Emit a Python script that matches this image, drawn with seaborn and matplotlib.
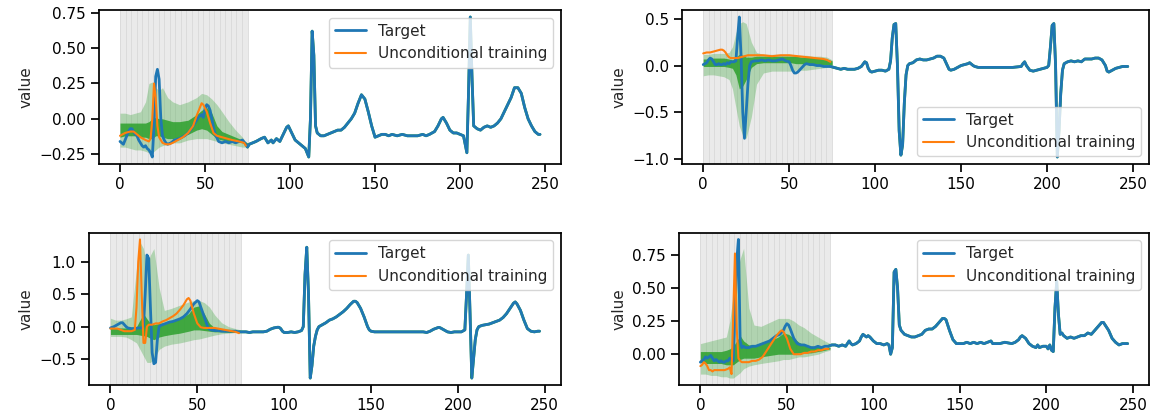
import numpy as np
import matplotlib
matplotlib.use("Agg")
import matplotlib.pyplot as plt
import seaborn as sns
from matplotlib.ticker import MultipleLocator

# ---------------- data ----------------
tl_target = [(0,-0.16),(1,-0.17),(2,-0.18),(3,-0.15),(4,-0.12),(5,-0.09),(6,-0.07),(7,-0.07),(8,-0.09),(9,-0.11),
             (10,-0.12),(11,-0.15),(12,-0.17),(13,-0.19),(14,-0.20),(15,-0.19),(16,-0.21),(17,-0.22),(18,-0.24),(19,-0.27),
             (20,-0.05),(21,0.30),(22,0.35),(23,0.28),(24,0.0),(25,-0.12),(26,-0.15),(27,-0.17),(28,-0.18),(30,-0.17),
             (32,-0.15),(35,-0.14),(38,-0.12),(40,-0.10),(42,-0.07),(44,-0.03),(46,0.01),(48,0.03),(49,0.01),(50,0.07),
             (51,0.10),(52,0.09),(53,0.06),(54,0.0),(55,-0.06),(56,-0.11),(58,-0.16),(60,-0.17),(62,-0.16),(64,-0.17),
             (66,-0.16),(68,-0.17),(70,-0.16),(72,-0.15),(74,-0.18),(75,-0.20),(76,-0.18),(78,-0.17),(80,-0.16),(83,-0.14),
             (85,-0.13),(87,-0.17),(89,-0.15),(90,-0.17),(92,-0.14),(94,-0.16),(96,-0.11),(98,-0.06),(99,-0.05),(101,-0.10),
             (103,-0.15),(105,-0.17),(107,-0.19),(109,-0.21),(111,-0.27),(112,0.0),(113,0.62),(114,0.45),(115,-0.05),(116,-0.10),
             (118,-0.12),(120,-0.12),(122,-0.11),(124,-0.10),(126,-0.09),(128,-0.08),(130,-0.08),(132,-0.06),(134,-0.03),(136,0.0),
             (138,0.04),(140,0.11),(142,0.17),(144,0.14),(146,0.05),(148,-0.05),(150,-0.13),(152,-0.12),(154,-0.11),(156,-0.11),
             (158,-0.12),(160,-0.11),(163,-0.12),(166,-0.11),(169,-0.12),(172,-0.12),(175,-0.12),(178,-0.11),(180,-0.12),(182,-0.11),
             (185,-0.09),(187,-0.05),(189,0.0),(190,0.01),(192,-0.03),(194,-0.08),(196,-0.10),(198,-0.10),(200,-0.11),(202,-0.12),
             (204,-0.24),(205,0.20),(206,0.72),(207,0.30),(208,-0.05),(210,-0.07),(212,-0.08),(214,-0.06),(216,-0.05),(218,-0.06),
             (220,-0.05),(222,-0.03),(224,0.0),(226,0.05),(228,0.10),(230,0.15),(232,0.22),(234,0.22),(236,0.18),(238,0.08),
             (240,0.0),(242,-0.05),(244,-0.09),(246,-0.11),(247,-0.11)]
tl_uncond = [(0,-0.12),(3,-0.10),(6,-0.09),(8,-0.09),(10,-0.11),(12,-0.13),(15,-0.15),(17,-0.16),(18,-0.14),(19,0.0),
             (20,0.25),(21,0.15),(22,-0.05),(23,-0.13),(25,-0.17),(27,-0.18),(29,-0.18),(31,-0.17),(34,-0.15),(37,-0.13),
             (40,-0.10),(43,-0.05),(45,0.02),(47,0.08),(48,0.11),(49,0.10),(51,0.05),(53,-0.03),(55,-0.10),(57,-0.12),
             (60,-0.13),(63,-0.14),(66,-0.15),(70,-0.16),(73,-0.17),(74,-0.19)]

tr_target = [(0,0.01),(1,0.02),(2,0.03),(3,0.06),(4,0.08),(5,0.07),(6,0.04),(7,0.01),(8,0.01),(9,0.02),
             (10,0.01),(11,0.01),(12,0.02),(13,0.01),(14,0.03),(15,0.02),(16,0.04),(17,0.04),(18,0.04),(19,0.05),
             (20,0.30),(21,0.52),(22,0.10),(23,-0.50),(24,-0.78),(25,-0.50),(26,-0.20),(27,0.0),(28,0.04),(30,0.05),
             (32,0.05),(34,0.06),(36,0.05),(38,0.06),(40,0.05),(42,0.05),(44,0.06),(46,0.07),(48,0.05),(50,0.04),
             (51,0.0),(52,-0.05),(53,-0.08),(54,-0.08),(55,-0.07),(56,-0.05),(57,-0.03),(58,-0.01),(59,0.01),(60,0.02),
             (62,0.01),(64,0.01),(66,0.0),(68,0.0),(70,-0.01),(72,-0.01),(74,-0.01),(76,-0.02),(78,-0.03),(80,-0.04),
             (82,-0.03),(84,-0.04),(86,-0.04),(88,-0.04),(90,-0.03),(92,-0.01),(94,0.04),(95,0.03),(96,-0.03),(97,-0.06),
             (98,-0.07),(100,-0.06),(102,-0.05),(104,-0.05),(106,-0.06),(108,-0.04),(109,0.05),(110,0.30),(111,0.44),(112,0.45),
             (113,0.0),(114,-0.70),(115,-0.96),(116,-0.85),(117,-0.40),(118,-0.10),(119,0.0),(120,0.02),(122,0.03),(124,0.06),
             (126,0.07),(128,0.06),(130,0.06),(132,0.07),(134,0.08),(136,0.10),(138,0.10),(140,0.08),(142,0.0),(143,-0.04),
             (144,-0.05),(146,-0.04),(148,-0.02),(150,0.0),(152,0.01),(154,0.02),(155,0.03),(157,0.0),(158,-0.01),(160,-0.02),
             (165,-0.02),(170,-0.02),(175,-0.02),(180,-0.02),(185,-0.01),(186,0.02),(187,0.04),(188,0.0),(190,-0.05),(192,-0.06),
             (194,-0.05),(196,-0.04),(198,-0.03),(200,-0.02),(201,0.0),(202,0.20),(203,0.43),(204,0.45),(205,0.0),(206,-0.98),
             (207,-0.70),(208,-0.30),(209,-0.05),(210,0.02),(212,0.04),(214,0.05),(216,0.04),(218,0.05),(220,0.04),(222,0.07),
             (224,0.07),(226,0.07),(228,0.08),(230,0.08),(232,0.06),(234,0.0),(235,-0.06),(236,-0.07),(238,-0.05),(240,-0.03),
             (242,-0.02),(244,-0.01),(246,-0.01),(247,-0.01)]
tr_uncond = [(0,0.13),(2,0.14),(4,0.14),(6,0.15),(8,0.16),(10,0.17),(11,0.17),(12,0.16),(13,0.14),(14,0.11),
             (15,0.09),(16,0.08),(18,0.08),(20,0.08),(22,0.09),(24,0.10),(26,0.11),(28,0.11),(30,0.11),(35,0.11),
             (40,0.10),(45,0.11),(50,0.11),(55,0.10),(60,0.09),(65,0.08),(70,0.07),(72,0.06),(74,0.04)]

bl_target = [(0,-0.02),(2,0.0),(4,0.03),(6,0.06),(7,0.06),(8,0.03),(9,0.0),(10,-0.02),(12,-0.03),(14,-0.03),
             (16,-0.02),(18,-0.02),(19,0.0),(20,0.5),(21,1.1),(22,1.05),(23,0.3),(24,-0.4),(25,-0.57),(26,-0.55),
             (27,-0.2),(28,0.0),(29,0.02),(30,0.03),(32,0.05),(34,0.07),(36,0.08),(38,0.10),(40,0.12),(42,0.15),
             (44,0.20),(46,0.27),(48,0.35),(50,0.40),(51,0.38),(52,0.30),(54,0.15),(56,0.0),(57,-0.04),(58,-0.05),
             (60,-0.06),(62,-0.06),(64,-0.07),(66,-0.07),(68,-0.07),(70,-0.07),(72,-0.07),(74,-0.08),(76,-0.08),(78,-0.08),
             (80,-0.09),(82,-0.08),(84,-0.08),(86,-0.08),(88,-0.08),(90,-0.07),(92,-0.04),(94,-0.02),(96,-0.01),(97,-0.01),
             (98,-0.03),(99,-0.07),(100,-0.09),(102,-0.09),(104,-0.08),(106,-0.09),(108,-0.08),(110,-0.06),(111,0.0),(112,0.8),
             (113,1.22),(114,0.5),(115,-0.79),(116,-0.6),(117,-0.3),(118,-0.15),(119,-0.05),(120,0.0),(122,0.03),(124,0.06),
             (126,0.10),(128,0.12),(130,0.15),(132,0.19),(134,0.23),(136,0.28),(138,0.34),(140,0.39),(141,0.39),(142,0.37),
             (144,0.28),(146,0.15),(148,0.0),(149,-0.05),(150,-0.07),(152,-0.08),(156,-0.08),(160,-0.08),(165,-0.08),(170,-0.08),
             (175,-0.08),(180,-0.08),(182,-0.09),(184,-0.07),(186,-0.04),(188,-0.02),(189,-0.01),(190,-0.02),(192,-0.05),(194,-0.08),
             (196,-0.09),(198,-0.08),(200,-0.08),(202,-0.08),(204,-0.05),(205,0.5),(206,1.1),(207,0.2),(208,-0.79),(209,-0.5),
             (210,-0.2),(211,-0.05),(212,0.0),(214,0.02),(216,0.03),(218,0.04),(220,0.06),(222,0.08),(224,0.10),(226,0.14),
             (228,0.20),(230,0.28),(232,0.36),(233,0.38),(234,0.35),(236,0.25),(238,0.10),(240,-0.03),(242,-0.07),(244,-0.08),
             (246,-0.07),(247,-0.07)]
bl_uncond = [(0,-0.03),(2,-0.03),(4,-0.03),(6,-0.05),(8,-0.07),(10,-0.07),(12,-0.07),(14,-0.05),(15,0.3),(16,1.0),
             (17,1.34),(18,0.5),(19,-0.25),(20,-0.25),(21,0.0),(22,0.03),(24,0.03),(26,0.05),(28,0.05),(30,0.08),
             (32,0.10),(34,0.13),(36,0.16),(38,0.20),(40,0.26),(42,0.33),(44,0.42),(45,0.44),(46,0.40),(48,0.20),
             (50,0.05),(52,-0.01),(54,-0.02),(56,-0.02),(58,-0.02),(60,-0.02),(62,-0.03),(64,-0.04),(66,-0.05),(68,-0.06),
             (70,-0.07),(72,-0.08),(74,-0.10)]

br_target = [(0,-0.06),(1,-0.05),(2,-0.04),(3,-0.02),(4,-0.03),(5,-0.02),(6,-0.01),(7,-0.03),(8,-0.05),(9,-0.04),
             (10,-0.05),(11,-0.06),(12,-0.05),(13,-0.06),(14,-0.06),(15,-0.05),(16,-0.05),(17,-0.03),(18,-0.04),(19,-0.05),
             (20,0.30),(21,0.70),(22,0.866),(23,0.10),(24,0.05),(25,0.06),(26,0.05),(28,0.05),(30,0.06),(32,0.06),
             (34,0.07),(36,0.08),(38,0.09),(40,0.10),(42,0.12),(44,0.14),(46,0.15),(48,0.18),(49,0.21),(50,0.23),
             (51,0.22),(52,0.19),(54,0.12),(56,0.08),(58,0.07),(60,0.07),(62,0.06),(64,0.05),(66,0.05),(68,0.06),
             (70,0.05),(72,0.06),(74,0.06),(76,0.07),(78,0.07),(80,0.06),(82,0.07),(84,0.06),(85,0.08),(86,0.10),
             (87,0.08),(88,0.07),(90,0.08),(92,0.10),(93,0.13),(94,0.15),(95,0.14),(96,0.13),(97,0.14),(98,0.13),
             (100,0.10),(102,0.08),(104,0.08),(106,0.07),(108,0.08),(109,0.07),(110,0.0),(111,0.05),(112,0.62),(113,0.64),
             (114,0.50),(115,0.22),(116,0.18),(118,0.15),(120,0.14),(122,0.13),(124,0.13),(126,0.14),(128,0.15),(130,0.18),
             (132,0.19),(134,0.19),(136,0.21),(138,0.24),(140,0.27),(141,0.27),(142,0.26),(144,0.18),(146,0.11),(148,0.08),
             (150,0.08),(152,0.08),(154,0.09),(156,0.08),(158,0.09),(160,0.08),(162,0.09),(164,0.08),(166,0.09),(168,0.10),
             (169,0.08),(170,0.08),(173,0.08),(176,0.09),(180,0.08),(182,0.09),(184,0.11),(185,0.13),(186,0.14),(188,0.12),
             (190,0.08),(192,0.06),(194,0.05),(195,0.07),(196,0.05),(198,0.06),(200,0.06),(201,0.04),(202,0.07),(203,0.03),
             (204,0.02),(205,0.35),(206,0.55),(207,0.30),(208,0.15),(209,0.16),(210,0.14),(212,0.12),(214,0.13),(216,0.12),
             (218,0.13),(220,0.14),(222,0.14),(224,0.16),(226,0.15),(228,0.18),(230,0.21),(232,0.24),(233,0.24),(234,0.22),
             (236,0.18),(238,0.12),(240,0.09),(242,0.07),(244,0.08),(246,0.08),(247,0.08)]
br_uncond = [(0,-0.09),(1,-0.08),(2,-0.06),(3,-0.07),(4,-0.09),(5,-0.12),(6,-0.12),(7,-0.13),(8,-0.12),(10,-0.12),
             (12,-0.12),(14,-0.12),(16,-0.11),(17,-0.10),(18,-0.15),(19,0.30),(20,0.76),(21,0.20),(22,-0.03),(23,-0.05),
             (24,-0.06),(26,-0.06),(28,-0.06),(30,-0.05),(32,-0.05),(34,-0.04),(36,-0.02),(38,0.02),(40,0.06),(42,0.10),
             (44,0.14),(46,0.17),(47,0.18),(48,0.17),(50,0.12),(52,0.04),(54,0.0),(56,0.0),(58,0.0),(60,0.01),
             (62,0.01),(64,0.02),(66,0.02),(68,0.03),(70,0.03),(72,0.04),(74,0.04)]

# quantile bands (outer 5-95 %, inner 25-75 %) at these time steps
band_x = [0, 3, 6, 9, 12, 15, 17, 19, 21, 23, 25, 28, 31, 35, 40, 45, 48, 51, 54, 57, 60, 64, 68, 72, 75]

tl_outer_hi = [0.04,0.04,0.03,0.04,0.05,0.12,0.25,0.26,0.22,0.20,0.22,0.15,0.12,0.10,0.12,0.15,0.18,0.17,0.14,0.10,0.05,-0.02,-0.08,-0.13,-0.18]
tl_outer_lo = [-0.20,-0.20,-0.21,-0.22,-0.22,-0.23,-0.24,-0.24,-0.22,-0.20,-0.19,-0.18,-0.17,-0.17,-0.15,-0.14,-0.14,-0.14,-0.15,-0.16,-0.17,-0.18,-0.19,-0.20,-0.20]
tl_inner_hi = [-0.03,-0.03,-0.03,-0.03,-0.03,-0.03,-0.02,0.0,0.01,0.0,0.0,-0.01,-0.02,-0.02,-0.01,0.03,0.06,0.08,0.04,-0.05,-0.09,-0.11,-0.13,-0.15,-0.17]
tl_inner_lo = [-0.13,-0.12,-0.12,-0.12,-0.13,-0.13,-0.14,-0.14,-0.12,-0.12,-0.13,-0.14,-0.14,-0.13,-0.11,-0.08,-0.07,-0.08,-0.11,-0.14,-0.15,-0.16,-0.16,-0.17,-0.19]

tr_outer_hi = [0.12,0.12,0.13,0.13,0.13,0.14,0.20,0.35,0.45,0.47,0.45,0.25,0.14,0.12,0.12,0.12,0.12,0.12,0.11,0.11,0.11,0.10,0.10,0.09,0.06]
tr_outer_lo = [-0.11,-0.10,-0.10,-0.11,-0.12,-0.15,-0.25,-0.45,-0.65,-0.75,-0.78,-0.55,-0.20,-0.08,-0.06,-0.06,-0.06,-0.06,-0.05,-0.05,-0.05,-0.04,-0.03,-0.02,-0.01]
tr_inner_hi = [0.07,0.07,0.08,0.08,0.08,0.07,0.06,0.09,0.12,0.11,0.09,0.09,0.10,0.10,0.10,0.10,0.10,0.10,0.10,0.09,0.09,0.09,0.08,0.07,0.05]
tr_inner_lo = [-0.01,-0.01,-0.01,-0.01,-0.01,-0.02,-0.03,-0.10,-0.25,-0.22,-0.15,-0.02,0.02,0.03,0.03,0.03,0.03,0.03,0.02,0.02,0.02,0.02,0.01,0.01,0.01]

bl_outer_hi = [0.13,0.10,0.10,0.12,0.15,0.90,1.30,1.20,0.90,1.10,1.20,0.60,0.25,0.28,0.33,0.38,0.40,0.40,0.37,0.30,0.18,0.06,0.0,-0.03,-0.05]
bl_outer_lo = [-0.15,-0.15,-0.15,-0.16,-0.20,-0.25,-0.35,-0.45,-0.55,-0.55,-0.50,-0.35,-0.30,-0.27,-0.25,-0.22,-0.20,-0.19,-0.17,-0.15,-0.13,-0.11,-0.10,-0.09,-0.08]
bl_inner_hi = [-0.03,-0.02,-0.02,-0.02,-0.01,0.0,0.10,0.20,0.12,0.05,0.03,0.05,0.06,0.08,0.12,0.20,0.30,0.32,0.20,0.05,-0.02,-0.04,-0.05,-0.06,-0.07]
bl_inner_lo = [-0.12,-0.12,-0.12,-0.12,-0.12,-0.12,-0.13,-0.14,-0.15,-0.18,-0.20,-0.16,-0.14,-0.12,-0.10,-0.07,-0.05,-0.05,-0.06,-0.07,-0.08,-0.08,-0.09,-0.09,-0.09]

br_outer_hi = [0.08,0.09,0.10,0.11,0.12,0.13,0.25,0.45,0.60,0.72,0.80,0.35,0.22,0.21,0.24,0.27,0.27,0.27,0.25,0.22,0.20,0.16,0.13,0.10,0.08]
br_outer_lo = [-0.15,-0.15,-0.16,-0.16,-0.17,-0.17,-0.18,-0.18,-0.16,-0.14,-0.11,-0.09,-0.08,-0.07,-0.06,-0.05,-0.04,-0.04,-0.03,-0.02,-0.02,-0.01,0.0,0.02,0.03]
br_inner_hi = [0.02,0.02,0.02,0.02,0.02,0.03,0.04,0.06,0.10,0.14,0.10,0.07,0.07,0.08,0.10,0.13,0.16,0.15,0.12,0.09,0.07,0.06,0.06,0.05,0.05]
br_inner_lo = [-0.06,-0.07,-0.07,-0.07,-0.07,-0.08,-0.08,-0.08,-0.06,-0.04,-0.03,-0.03,-0.03,-0.02,-0.01,0.0,0.0,0.0,0.0,0.01,0.01,0.01,0.02,0.03,0.04]

# conditioning window (grey) and its grid of time stamps
window = (0, 75)
window_marks = [0, 3.3, 6.5, 9.8, 13.0, 16.3, 19.5, 22.8, 26.1, 29.3, 32.6, 35.9, 39.1, 42.4,
                45.7, 48.9, 52.2, 55.4, 58.7, 62.0, 65.2, 68.5, 71.7, 75]

panels = [
    dict(target=tl_target, uncond=tl_uncond, bands=(tl_outer_lo, tl_outer_hi, tl_inner_lo, tl_inner_hi),
         ystep=0.25, loc="upper right"),
    dict(target=tr_target, uncond=tr_uncond, bands=(tr_outer_lo, tr_outer_hi, tr_inner_lo, tr_inner_hi),
         ystep=0.5, loc="lower right"),
    dict(target=bl_target, uncond=bl_uncond, bands=(bl_outer_lo, bl_outer_hi, bl_inner_lo, bl_inner_hi),
         ystep=0.5, loc="upper right"),
    dict(target=br_target, uncond=br_uncond, bands=(br_outer_lo, br_outer_hi, br_inner_lo, br_inner_hi),
         ystep=0.25, loc="upper right"),
]

# ---------------- style ----------------
sns.set_theme(style="ticks", context="notebook")
plt.rcParams.update({
    "font.family": ["DejaVu Sans"],
    "font.size": 11,
    "axes.labelsize": 11,
    "xtick.labelsize": 11,
    "ytick.labelsize": 11,
    "legend.fontsize": 11,
    "axes.linewidth": 1.25,
    "xtick.major.width": 1.25,
    "ytick.major.width": 1.25,
    "xtick.major.size": 6,
    "ytick.major.size": 6,
    "axes.edgecolor": "black",
    "xtick.color": "black",
    "ytick.color": "black",
})

BLUE, ORANGE, GREEN = "#1f77b4", "#ff7f0e", "#2ca02c"

fig = plt.figure(figsize=(11.56, 4.18), dpi=100)
rects = [
    [99 / 1156, 254 / 418, 462 / 1156, 154 / 418],
    [682 / 1156, 254 / 418, 467 / 1156, 154 / 418],
    [89 / 1156, 33 / 418, 472 / 1156, 152.5 / 418],
    [679 / 1156, 33 / 418, 470 / 1156, 152.5 / 418],
]

for rect, p in zip(rects, panels):
    ax = fig.add_axes(rect)
    tx = [a for a, _ in p["target"]]
    ty = [b for _, b in p["target"]]
    ux = [a for a, _ in p["uncond"]]
    uy = [b for _, b in p["uncond"]]
    olo, ohi, ilo, ihi = p["bands"]

    ax.axvspan(window[0], window[1], color="#eaeaea", lw=0, zorder=0)
    for m in window_marks:
        ax.axvline(m, color="#d9d9d9", lw=0.6, zorder=0.5)

    ax.fill_between(band_x, olo, ohi, color=GREEN, alpha=0.3, lw=0, zorder=1)
    ax.fill_between(band_x, ilo, ihi, color=GREEN, alpha=0.85, lw=0, zorder=1.2)

    # median collapses onto the target outside the window
    gx = [a for a in tx if a >= window[1] - 1]
    gy = [b for a, b in zip(tx, ty) if a >= window[1] - 1]
    ax.plot(gx, gy, color=GREEN, lw=2.0, zorder=1.5)

    sns.lineplot(x=tx, y=ty, ax=ax, color=BLUE, lw=2, label="Target", zorder=2)
    sns.lineplot(x=ux, y=uy, ax=ax, color=ORANGE, lw=1.5, label="Unconditional training", zorder=3)

    ax.set_ylabel("value")
    ax.set_xlabel("")
    ax.xaxis.set_major_locator(MultipleLocator(50))
    ax.yaxis.set_major_locator(MultipleLocator(p["ystep"]))
    ax.set_xlim(-12.35, 259.35)
    ax.legend(loc=p["loc"])
    for s in ax.spines.values():
        s.set_visible(True)

fig.savefig("out.png", dpi=100)
